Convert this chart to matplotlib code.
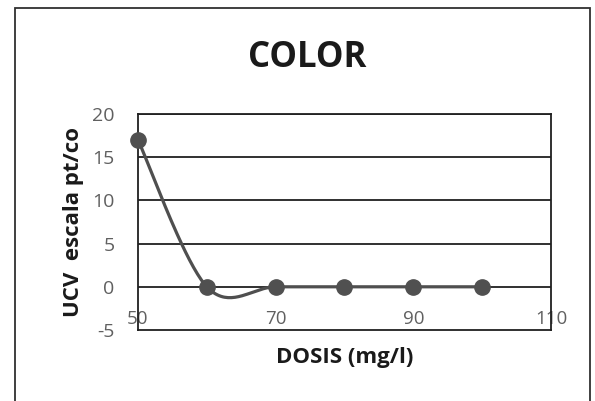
import numpy as np
import matplotlib
matplotlib.use("Agg")
import matplotlib.pyplot as plt
from matplotlib.patches import Rectangle

plt.rcParams["font.family"] = ["Open Sans", "DejaVu Sans"]
plt.rcParams["axes.unicode_minus"] = False

dosis = [50, 60, 70, 80, 90, 100]
ucv = [17, 0, 0, 0, 0, 0]
x_ticks = [50, 70, 90, 110]
y_ticks = [-5, 0, 5, 10, 15, 20]


def smooth(xs, ys, n=40):
    # Excel-like smoothed line: Catmull-Rom as cubic Bezier segments
    xs = np.asarray(xs, float)
    ys = np.asarray(ys, float)
    px = np.concatenate([[xs[0]], xs, [xs[-1]]])
    py = np.concatenate([[ys[0]], ys, [ys[-1]]])
    t = np.linspace(0, 1, n)[:, None]
    out_x, out_y = [], []
    for i in range(1, len(xs)):
        p0 = np.array([px[i], py[i]])
        p3 = np.array([px[i + 1], py[i + 1]])
        c1 = p0 + (np.array([px[i + 1], py[i + 1]]) - np.array([px[i - 1], py[i - 1]])) / 6
        c2 = p3 - (np.array([px[i + 2], py[i + 2]]) - p0) / 6
        b = ((1 - t) ** 3) * p0 + 3 * ((1 - t) ** 2) * t * c1 + 3 * (1 - t) * t ** 2 * c2 + t ** 3 * p3
        out_x.extend(b[:, 0])
        out_y.extend(b[:, 1])
    return out_x, out_y


fig = plt.figure(figsize=(5.95, 4.01), dpi=100)
ax = fig.add_axes([138 / 595, 1 - 330 / 401, 413 / 595, 216 / 401])

sx, sy = smooth(dosis, ucv)
ax.plot(sx, sy, color="#4f4f4f", lw=2.3, clip_on=False, zorder=3)
ax.plot(dosis, ucv, "o", color="#505050", ms=11, clip_on=False, zorder=4)

ax.set_xlim(50, 110)
ax.set_ylim(-5, 20)
ax.set_yticks(y_ticks)
ax.set_xticks(x_ticks)
ax.tick_params(axis="x", length=0, labelbottom=False)
ax.tick_params(axis="y", length=0, labelsize=14, labelcolor="#606060", pad=17)
for v in y_ticks[1:]:
    ax.axhline(v, color="#202020", lw=1.3, zorder=1)
for s in ax.spines.values():
    s.set_color("#202020")
    s.set_linewidth(1.3)

sec = ax.secondary_xaxis(0.2)
sec.set_xticks(x_ticks)
sec.spines["bottom"].set_visible(False)
sec.tick_params(axis="x", length=0, labelsize=13.5, labelcolor="#606060", pad=17)

ax.set_xlabel("DOSIS (mg/l)", fontsize=16, fontweight="bold", color="#1a1a1a", labelpad=12)
ax.set_ylabel("UCV  escala pt/co", fontsize=16, fontweight="bold", color="#1a1a1a", labelpad=6)
fig.text(307 / 595, 1 - 58 / 401, "COLOR", fontsize=25, fontweight="bold",
         color="#1a1a1a", ha="center", va="center")

fig.patches.append(Rectangle((15 / 595, -0.05), 575 / 595, 1.05 - 8 / 401,
                             transform=fig.transFigure, fill=False,
                             edgecolor="#303030", lw=1.3))

fig.savefig("out.png", dpi=100, facecolor="white")
